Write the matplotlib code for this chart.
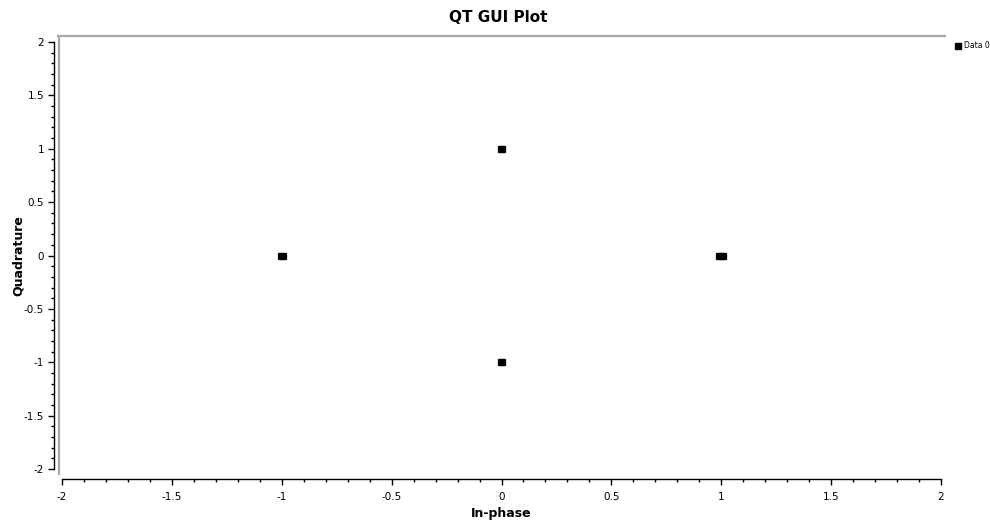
import matplotlib
matplotlib.use("Agg")
import matplotlib.pyplot as plt
from matplotlib.ticker import MultipleLocator, FuncFormatter
from matplotlib.lines import Line2D

# Constellation samples (in-phase, quadrature)
in_phase = [-1.004, -0.996, -0.002, 0.002, -0.002, 0.002, 0.992, 1.000, 1.008]
quadrature = [0.0, 0.0, 1.0, 1.0, -1.0, -1.0, 0.0, 0.0, 0.0]

x_range = (-2, 2)
y_range = (-2, 2)
title = "QT GUI Plot"
x_label = "In-phase"
y_label = "Quadrature"
series_name = "Data 0"

W, H, DPI = 990, 525, 100
fig = plt.figure(figsize=(W / DPI, H / DPI), dpi=DPI)
fig.patch.set_facecolor("white")

def fx(px):
    return px / W

def fy(py):
    return 1 - py / H

# plot area in pixel coordinates
x0, x1 = 62, 941
y0, y1 = 42, 469
ax = fig.add_axes([fx(x0), fy(y1), fx(x1) - fx(x0), fy(y0) - fy(y1)])
ax.set_xlim(*x_range)
ax.set_ylim(*y_range)
ax.patch.set_alpha(0)

ax.plot(in_phase, quadrature, linestyle="none", marker="s", markersize=5,
        color="black", markeredgewidth=0.9, zorder=5)

# canvas frame: grey line on top and left edges
frame_col = "#a8a8a8"
fig.add_artist(Line2D([fx(58), fx(945)], [fy(36), fy(36)], color=frame_col, lw=1.6))
fig.add_artist(Line2D([fx(58.5), fx(58.5)], [fy(36), fy(474)], color=frame_col, lw=1.6))

for s in ["top", "right"]:
    ax.spines[s].set_visible(False)
ax.spines["left"].set_position(("outward", 5.5))
ax.spines["bottom"].set_position(("outward", 7.2))
ax.spines["left"].set_linewidth(1.0)
ax.spines["bottom"].set_linewidth(1.0)

ax.xaxis.set_major_locator(MultipleLocator(0.5))
ax.xaxis.set_minor_locator(MultipleLocator(0.1))
ax.yaxis.set_major_locator(MultipleLocator(0.5))
ax.yaxis.set_minor_locator(MultipleLocator(0.1))

fmt = FuncFormatter(lambda v, p: "%g" % v if abs(v) > 1e-9 else "0")
ax.xaxis.set_major_formatter(fmt)
ax.yaxis.set_major_formatter(fmt)

ax.tick_params(axis="both", which="major", length=4.5, width=1.0, labelsize=7.5,
               color="black", pad=3)
ax.tick_params(axis="both", which="minor", length=2.5, width=1.0, color="black")
ax.tick_params(axis="x", which="major", pad=5)

fig.text(fx(498), fy(18), title, ha="center", va="center", fontsize=11,
         fontweight="bold")
fig.text(fx(501), fy(513), x_label, ha="center", va="center", fontsize=9,
         fontweight="bold")
fig.text(fx(18), fy(256), y_label, ha="center", va="center", fontsize=9,
         fontweight="bold", rotation=90)

# legend entry
fig.add_artist(Line2D([fx(957.5)], [fy(46)], marker="s", markersize=4,
                      color="black", linestyle="none"))
fig.text(fx(964), fy(46), series_name, ha="left", va="center", fontsize=5.5)

fig.savefig("out.png", dpi=DPI)
